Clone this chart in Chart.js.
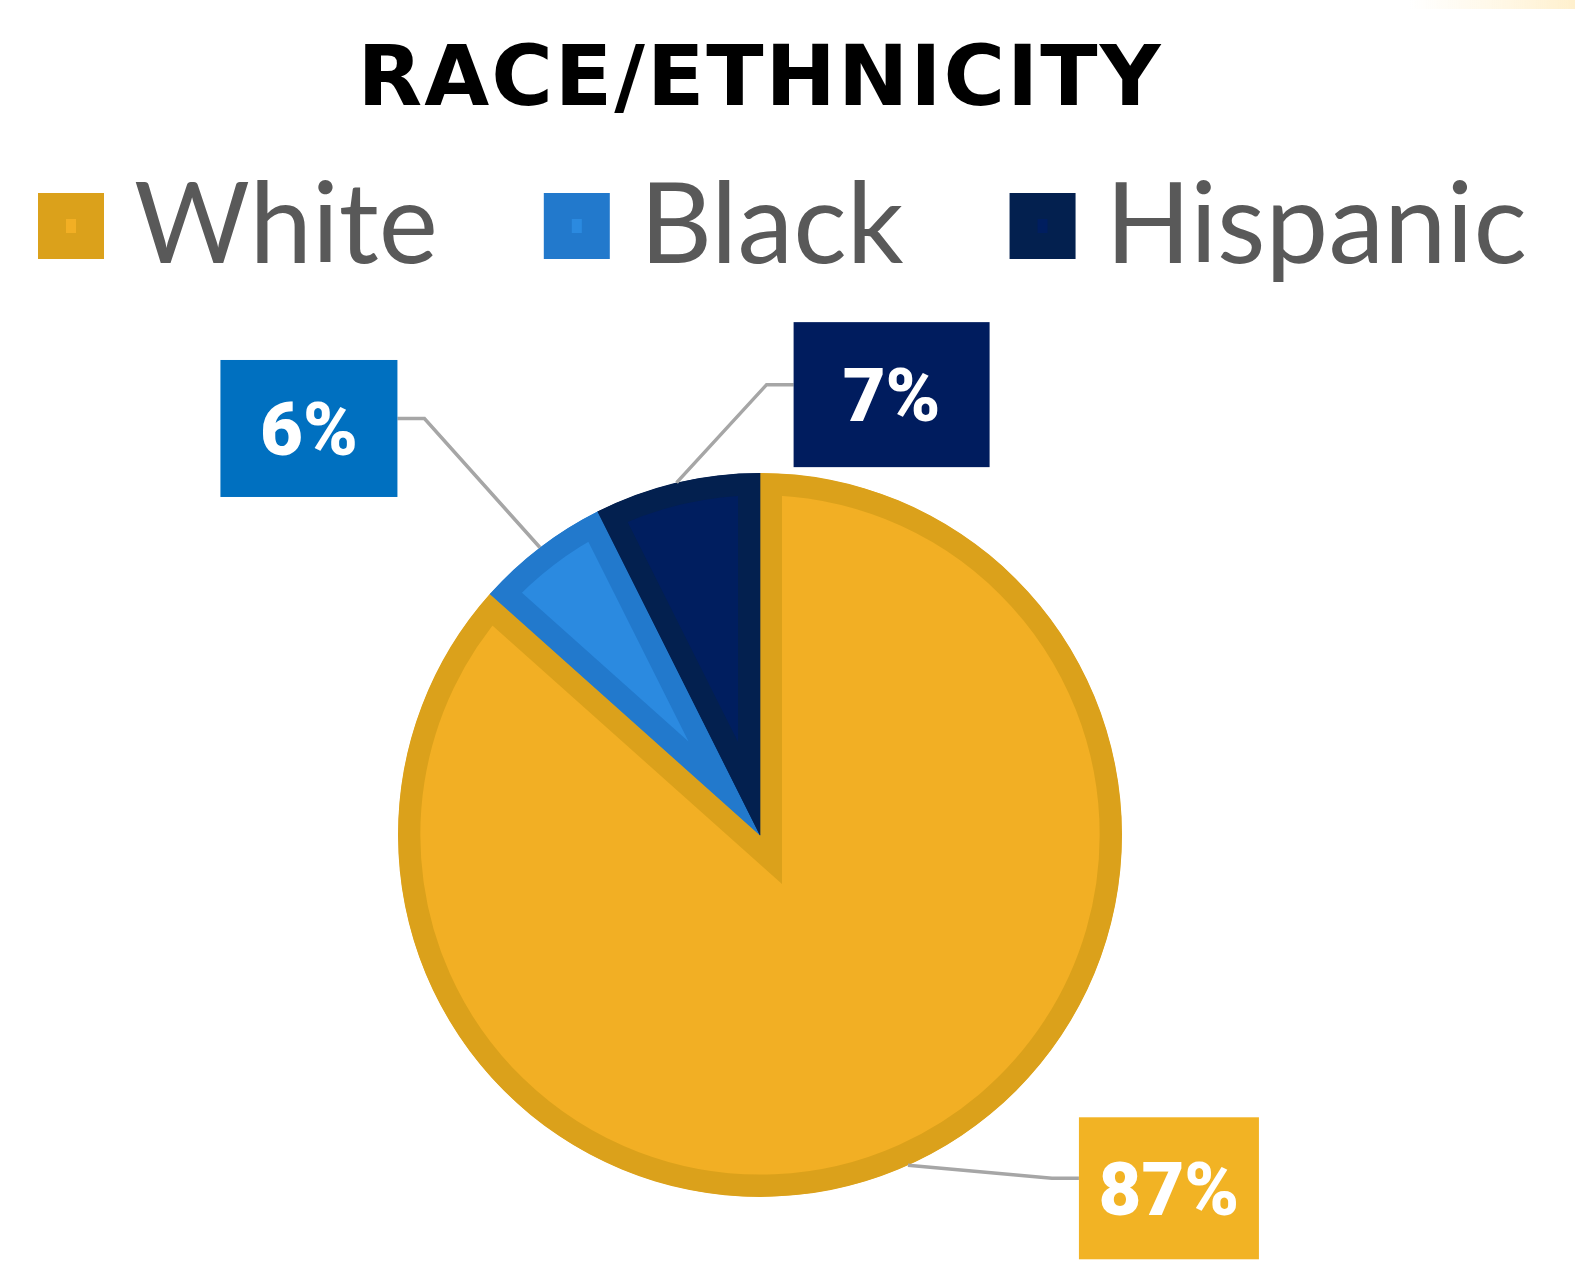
<!DOCTYPE html>
<html>
<head>
<meta charset="utf-8">
<script src="https://cdn.jsdelivr.net/npm/chart.js@4"></script>
<style>
  html, body { margin: 0; padding: 0; background: #fff; }
  canvas { display: block; }
</style>
</head>
<body>
<canvas id="chart" width="1575" height="1270"></canvas>
<script>
const categories = ["White", "Black", "Hispanic"];
const shares = [86.6, 6.0, 7.4];

const sliceColors = ["#F2AF24", "#2B8AE0", "#001E5F"];
const sliceBorders = ["#DBA11B", "#2279CC", "#03204F"];
const boxColors = ["#F2B324", "#0070C0", "#001C5E"];

// callout box centre, relative to the point on the slice edge
const calloutShift = [[261, 23], [-231, -119], [215, -88]];
const calloutSize = [[180, 142], [177, 137], [196, 145]];

// faint warm glow in the top right corner + wider title tracking
const backdropPlugin = {
  id: "backdrop",
  beforeDraw(chart) {
    const ctx = chart.ctx;
    const g = ctx.createLinearGradient(1410, 0, 1575, 0);
    g.addColorStop(0, "rgba(255,243,214,0)");
    g.addColorStop(1, "rgba(255,240,205,1)");
    ctx.fillStyle = g;
    ctx.fillRect(1410, 0, 165, 9);
    ctx.letterSpacing = "2px";
  },
  beforeDatasetsDraw(chart) {
    chart.ctx.letterSpacing = "0px";
  }
};

// legend drawn by hand so the box/text gaps match
const legendPlugin = {
  id: "topLegend",
  afterDraw(chart) {
    const ctx = chart.ctx;
    ctx.save();
    ctx.font = "112px Lato";
    ctx.textBaseline = "alphabetic";
    let x = 38;
    categories.forEach((name, i) => {
      ctx.fillStyle = sliceBorders[i];
      ctx.fillRect(x, 193, 66, 66);
      ctx.fillStyle = sliceColors[i];
      ctx.fillRect(x + 28, 219, 10, 14);
      ctx.fillStyle = "#595959";
      ctx.fillText(name, x + 96, 263);
      x += 96 + ctx.measureText(name).width + 106;
    });
    ctx.restore();
  }
};

const calloutPlugin = {
  id: "callouts",
  afterDraw(chart) {
    const ctx = chart.ctx;
    const arcs = chart.getDatasetMeta(0).data;
    ctx.save();
    arcs.forEach((arc, i) => {
      const { x, y, startAngle, endAngle, outerRadius } = arc.getProps(
        ["x", "y", "startAngle", "endAngle", "outerRadius"], true);
      const mid = (startAngle + endAngle) / 2;
      const ax = x + Math.cos(mid) * outerRadius;
      const ay = y + Math.sin(mid) * outerRadius;
      const [w, h] = calloutSize[i];
      const cx = ax + calloutShift[i][0];
      const cy = ay + calloutShift[i][1];
      const onLeft = cx < ax;
      const sideX = onLeft ? cx + w / 2 : cx - w / 2;
      const elbowX = onLeft ? sideX + 27 : sideX - 27;
      const lineY = cy - 10;

      ctx.strokeStyle = "#A6A6A6";
      ctx.lineWidth = 3.5;
      ctx.beginPath();
      ctx.moveTo(ax, ay);
      ctx.lineTo(elbowX, lineY);
      ctx.lineTo(sideX, lineY);
      ctx.stroke();

      ctx.fillStyle = boxColors[i];
      ctx.fillRect(cx - w / 2, cy - h / 2, w, h);
      ctx.fillStyle = "#fff";
      ctx.font = "900 74px Roboto";
      ctx.textAlign = "center";
      ctx.textBaseline = "middle";
      ctx.fillText(Math.round(shares[i]) + "%", cx, cy + 8);
    });
    ctx.restore();
  }
};

new Chart(document.getElementById("chart"), {
  type: "pie",
  data: {
    labels: categories,
    datasets: [
      {
        data: shares,
        backgroundColor: sliceColors,
        borderColor: sliceBorders,
        borderWidth: 22,
        borderAlign: "inner",
        borderJoinStyle: "miter",
        radius: 362,
      },
    ],
  },
  options: {
    responsive: false,
    animation: false,
    events: [],
    layout: { padding: { left: 0, right: 55, top: 0, bottom: 20 } },
    plugins: {
      legend: { display: false },
      tooltip: { enabled: false },
      title: {
        display: true,
        text: "RACE/ETHNICITY",
        color: "#000",
        font: { family: "DejaVu Sans", size: 84, weight: "bold" },
        padding: { top: 33, bottom: 286 },
      },
    },
  },
  plugins: [backdropPlugin, legendPlugin, calloutPlugin],
});
</script>
</body>
</html>
